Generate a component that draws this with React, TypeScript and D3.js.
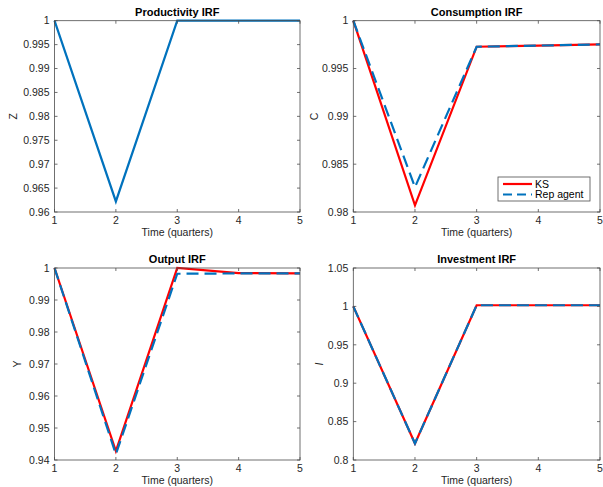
import React from 'react';
import * as d3 from 'd3';

// quarters on the x axis
const time = [1, 2, 3, 4, 5];
const xTicks = [1, 2, 3, 4, 5];

// impulse responses
const zKS = [1, 0.9622, 1, 1, 1];
const cKS = [1, 0.9807, 0.99728, 0.9974, 0.99752];
const cRep = [1, 0.9826, 0.99728, 0.9974, 0.99752];
const yKS = [1, 0.9428, 1.0, 0.9984, 0.9983];
const yRep = [1, 0.9418, 0.9982, 0.9983, 0.9983];
const iKS = [1, 0.8215, 1.0015, 1.0015, 1.0015];
const iRep = [1, 0.8215, 1.0015, 1.0015, 1.0015];

const zTicks = [0.96, 0.965, 0.97, 0.975, 0.98, 0.985, 0.99, 0.995, 1];
const cTicks = [0.98, 0.985, 0.99, 0.995, 1];
const yTicks = [0.94, 0.95, 0.96, 0.97, 0.98, 0.99, 1];
const iTicks = [0.8, 0.85, 0.9, 0.95, 1, 1.05];

const RED = '#ff0000';
const BLUE = '#0072bd';
const AXIS = '#4d4d4d';
const FONT = '"Liberation Sans", Arial, sans-serif';

type Series = { values: number[]; color: string; dash?: string };

function Panel(props: {
  left: number; right: number; top: number; bottom: number;
  title: string; ylabel: string; labelOff: number; italic?: boolean;
  yDomain: [number, number]; yTicks: number[];
  series: Series[]; legend?: boolean;
}) {
  const { left, right, top, bottom, title, ylabel, yDomain, yTicks, series } = props;
  const x = d3.scaleLinear().domain([1, 5]).range([left, right]);
  const y = d3.scaleLinear().domain(yDomain).range([bottom, top]);
  const line = d3.line<number>().x((d, i) => x(time[i])).y(d => y(d));
  const tl = 3;

  return (
    <g>
      {series.map((s, k) => (
        <path key={k} d={line(s.values) || ''} fill="none" stroke={s.color}
          strokeWidth={2.2} strokeDasharray={s.dash} strokeLinejoin="miter" />
      ))}
      <rect x={left} y={top} width={right - left} height={bottom - top}
        fill="none" stroke={AXIS} strokeWidth={0.8} />
      {xTicks.map(t => (
        <g key={'x' + t}>
          <line x1={x(t)} x2={x(t)} y1={bottom} y2={bottom - tl} stroke={AXIS} strokeWidth={0.8} />
          <line x1={x(t)} x2={x(t)} y1={top} y2={top + tl} stroke={AXIS} strokeWidth={0.8} />
          <text x={x(t)} y={bottom + 12} textAnchor="middle" fontSize={10.5} fill="#262626">{t}</text>
        </g>
      ))}
      {yTicks.map(t => (
        <g key={'y' + t}>
          <line x1={left} x2={left + tl} y1={y(t)} y2={y(t)} stroke={AXIS} strokeWidth={0.8} />
          <line x1={right} x2={right - tl} y1={y(t)} y2={y(t)} stroke={AXIS} strokeWidth={0.8} />
          <text x={left - 5} y={y(t) + 3.7} textAnchor="end" fontSize={10.5} fill="#262626">{String(t)}</text>
        </g>
      ))}
      <text x={(left + right) / 2} y={top - 5} textAnchor="middle" fontSize={11}
        fontWeight="bold" fill="#000">{title}</text>
      <text x={(left + right) / 2} y={bottom + 24} textAnchor="middle" fontSize={10.5} fill="#262626">
        Time (quarters)
      </text>
      <text transform={`translate(${left - props.labelOff},${(top + bottom) / 2}) rotate(-90)`}
        textAnchor="middle" fontSize={10.5} fill="#262626"
        fontStyle={props.italic ? 'italic' : 'normal'}>{ylabel}</text>
      {props.legend && (
        <g>
          <rect x={498} y={177} width={92} height={24} fill="#fff" stroke={AXIS} strokeWidth={0.8} />
          <line x1={503} x2={532} y1={184} y2={184} stroke={RED} strokeWidth={2.2} />
          <text x={535} y={187.5} fontSize={10.5} fill="#000">KS</text>
          <line x1={503} x2={532} y1={194.5} y2={194.5} stroke={BLUE} strokeWidth={2.2} strokeDasharray="9,5" />
          <text x={535} y={198} fontSize={10.5} fill="#000">Rep agent</text>
        </g>
      )}
    </g>
  );
}

export default function App() {
  const dash = '12,6';
  return (
    <svg width={603} height={487} style={{ position: 'absolute', left: 0, top: 0, fontFamily: FONT }}>
      <rect width={603} height={487} fill="#fff" />
      <Panel left={54.5} right={300} top={20.7} bottom={212} title="Productivity IRF" ylabel="Z" labelOff={38}
        yDomain={[0.96, 1]} yTicks={zTicks} series={[{ values: zKS, color: BLUE }]} />
      <Panel left={353.3} right={600} top={20.7} bottom={212} title="Consumption IRF" ylabel="C" labelOff={35.5}
        yDomain={[0.98, 1]} yTicks={cTicks} legend
        series={[{ values: cKS, color: RED }, { values: cRep, color: BLUE, dash }]} />
      <Panel left={54.5} right={300} top={268} bottom={460} title="Output IRF" ylabel="Y" labelOff={34}
        yDomain={[0.94, 1]} yTicks={yTicks}
        series={[{ values: yKS, color: RED }, { values: yRep, color: BLUE, dash }]} />
      <Panel left={353.3} right={600} top={268} bottom={460} title="Investment IRF" ylabel="I" labelOff={30} italic
        yDomain={[0.8, 1.05]} yTicks={iTicks}
        series={[{ values: iKS, color: RED }, { values: iRep, color: BLUE, dash }]} />
    </svg>
  );
}
